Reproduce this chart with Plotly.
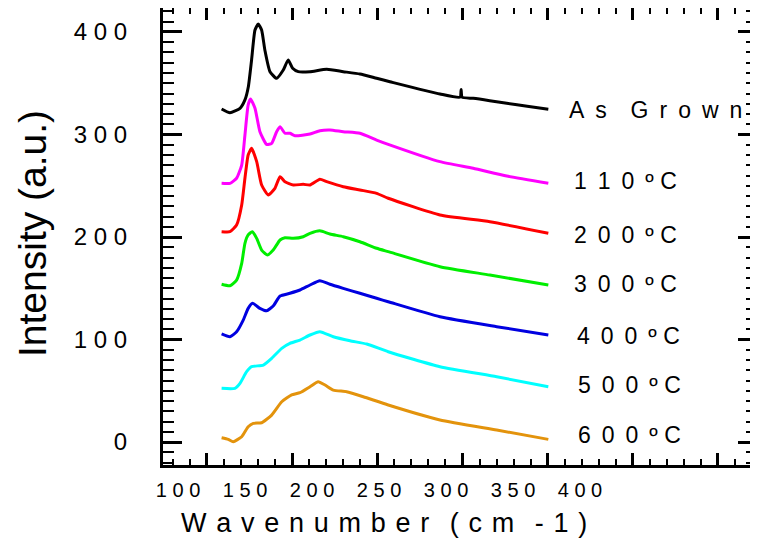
import plotly.graph_objects as go

NB = "\u00a0"
TH = "\u2009"
HR = "\u200a"

# ---- data ----
x_as = [108.6, 113.5, 119.4, 122.3, 124.3, 126.2, 128.2, 130.1, 132.1, 134.0, 137.0, 140.9, 144.8, 147.7, 150.3, 153.6,
        160.5, 170.3, 180.0, 189.8, 199.6, 207.4, 236.8, 248.6, 249.2, 249.8, 256.3, 266.0, 276.0, 288.0, 300.4]
y_as = [324.9, 321.3, 325.5, 333.7, 346.6, 372.7, 401.9, 407.8, 401.9, 382.4, 361.3, 354.8, 362.9, 372.7, 364.6, 361.3,
        361.3, 363.6, 361.3, 359.0, 354.8, 351.5, 339.5, 336.5, 344.0, 336.3, 335.3, 333.0, 330.4, 327.5, 324.6]

x_110 = [108.6, 113.5, 117.4, 120.4, 122.3, 124.2, 125.6, 128.2, 131.1, 135.0, 138.0, 140.9, 142.9, 145.8, 148.7, 151.7,
         160.5, 166.3, 172.2, 180.0, 189.8, 199.6, 206.4, 236.8, 256.3, 276.0, 300.4]
y_110 = [252.4, 252.4, 257.3, 270.2, 299.5, 328.8, 334.6, 325.6, 302.7, 290.4, 291.4, 302.7, 307.6, 301.2, 301.2, 298.8,
         300.5, 303.7, 304.4, 302.7, 301.2, 294.6, 290.4, 273.5, 267.0, 259.5, 252.4]

x_200 = [108.6, 113.5, 117.4, 120.4, 122.3, 124.2, 126.2, 129.2, 132.1, 136.0, 139.9, 142.9, 145.8, 150.7, 156.5, 160.5,
         166.3, 170.3, 180.0, 189.8, 199.6, 206.4, 236.8, 266.1, 300.4]
y_200 = [205.2, 205.2, 211.7, 231.2, 257.3, 280.0, 286.5, 273.5, 250.7, 241.0, 247.5, 258.8, 253.9, 250.7, 251.4, 250.7,
         256.3, 254.0, 249.1, 245.9, 242.6, 237.8, 221.5, 214.9, 203.6]

x_300 = [108.6, 113.5, 117.4, 120.4, 122.3, 124.2, 126.6, 129.2, 132.1, 135.4, 138.9, 142.9, 145.8, 150.7, 156.5, 160.5,
         166.3, 172.2, 180.0, 189.8, 199.6, 206.4, 236.8, 266.1, 300.4]
y_300 = [153.9, 152.5, 158.0, 174.3, 193.9, 202.0, 205.2, 198.7, 187.3, 182.4, 187.3, 197.1, 199.3, 198.7, 200.3, 203.6,
         206.1, 202.9, 200.3, 195.4, 189.0, 185.7, 171.0, 162.9, 153.2]

x_400 = [108.6, 113.5, 117.4, 121.3, 124.2, 126.8, 131.1, 135.0, 138.9, 142.9, 148.7, 154.6, 160.5, 166.3, 172.2, 180.0,
         189.8, 199.6, 206.4, 236.8, 270.1, 300.4]
y_400 = [105.4, 102.7, 107.6, 119.0, 130.4, 135.3, 130.4, 128.1, 132.7, 142.4, 145.1, 148.3, 153.2, 157.4, 153.9, 149.9,
         145.1, 140.2, 136.9, 122.2, 112.5, 104.4]

x_500 = [108.6, 116.4, 119.4, 123.3, 126.2, 133.1, 138.0, 143.9, 148.7, 154.6, 160.5, 166.3, 174.2, 184.0, 193.8, 206.4,
         236.8, 270.1, 300.4]
y_500 = [52.4, 52.4, 57.3, 68.6, 73.5, 75.1, 81.7, 91.4, 96.3, 99.5, 104.4, 107.6, 102.7, 98.8, 95.6, 88.1,
         73.5, 63.7, 54.0]

x_600 = [108.6, 112.5, 115.4, 120.4, 124.2, 127.2, 132.1, 138.0, 143.9, 149.7, 154.6, 160.5, 165.3, 169.3, 174.2, 182.0,
         191.8, 206.4, 236.8, 270.1, 300.4]
y_600 = [4.2, 2.6, 0.3, 5.2, 14.9, 18.2, 18.8, 26.3, 39.3, 45.9, 48.1, 54.0, 58.8, 55.6, 50.7, 49.1,
         44.2, 36.1, 21.5, 11.7, 2.6]

series_x = [x_as, x_110, x_200, x_300, x_400, x_500, x_600]
series_y = [y_as, y_110, y_200, y_300, y_400, y_500, y_600]
series_names = ["As Grown", "110ºC", "200ºC", "300ºC", "400ºC", "500ºC", "600ºC"]
series_colors = ["#000000", "#FF00FF", "#FF0000", "#00EE00", "#0000E0", "#00FFFF", "#E3930C"]

label_text = [
    "A" + NB + TH + "s" + NB * 3 + TH + "G" + NB + TH + "r" + NB + TH + "o" + NB + TH + "w" + NB + TH + "n",
    "1" + NB + TH + "1" + NB + TH + "0" + NB + TH + "º" + NB + "C",
    "2" + NB + TH + "0" + NB + TH + "0" + NB + TH + "º" + NB + "C",
    "3" + NB + TH + "0" + NB + TH + "0" + NB + TH + "º" + NB + "C",
    "4" + NB + TH + "0" + NB + TH + "0" + NB + TH + "º" + NB + "C",
    "5" + NB + TH + "0" + NB + TH + "0" + NB + TH + "º" + NB + "C",
    "6" + NB + TH + "0" + NB + TH + "0" + NB + TH + "º" + NB + "C",
]
label_x = [311.4, 314.3, 314.3, 314.3, 316.0, 316.6, 316.6]
label_y = [323.9, 254.8, 202.0, 154.1, 103.4, 55.6, 6.8]

x_tick_vals = [100, 150, 200, 250, 300, 350, 400]
x_tick_text = [NB.join(str(v)) for v in x_tick_vals]
y_tick_vals = [0, 100, 200, 300, 400]
y_tick_text = [NB.join(str(v)) for v in y_tick_vals]

LG = NB + HR
x_title = LG.join("Wavenumber") + NB * 2 + TH + LG.join("(cm") + NB * 2 + TH + LG.join("-1)")
y_title = "Intensity (a.u.)"

FONT = "Liberation Sans, Arial, sans-serif"

fig = go.Figure()
for xs, ys, nm, c in zip(series_x, series_y, series_names, series_colors):
    fig.add_trace(go.Scatter(x=xs, y=ys, name=nm, mode="lines",
                             line=dict(color=c, width=3, shape="spline", smoothing=0.5),
                             showlegend=False))

# carrier trace for the label axis (no visible marks)
fig.add_trace(go.Scatter(x=[x_tick_vals[0], x_tick_vals[-1]], y=[None, None], xaxis="x2", yaxis="y",
                         mode="lines", showlegend=False, hoverinfo="skip"))

for t, lx, ly in zip(label_text, label_x, label_y):
    fig.add_annotation(x=lx, y=ly, xref="x", yref="y", text=t, showarrow=False,
                       xanchor="left", yanchor="middle", font=dict(family=FONT, size=23, color="black"))

PL, PR, PT, PB = 155, 749, 0, 457  # plot area in figure px
fig.add_annotation(x=(376 - PL) / (PR - PL), y=(PB - 515) / (PB - PT), xref="paper", yref="paper",
                   text=x_title, showarrow=False, xanchor="center", yanchor="middle",
                   font=dict(family=FONT, size=27, color="black"))
fig.add_annotation(x=(24 - PL) / (PR - PL), y=(PB - 226) / (PB - PT), xref="paper", yref="paper",
                   text=y_title, showarrow=False, xanchor="center", yanchor="middle", textangle=-90,
                   font=dict(family=FONT, size=39, color="black"))

fig.update_layout(
    width=758, height=546,
    margin=dict(l=PL, r=758 - PR, t=PT, b=546 - PB, autoexpand=False),
    paper_bgcolor="white", plot_bgcolor="white",
    showlegend=False,
    xaxis=dict(range=[74.2, 422.9], tickmode="array", tickvals=x_tick_vals, showticklabels=False,
               ticks="inside", ticklen=12, tickwidth=3, tickcolor="black",
               minor=dict(dtick=10, tick0=0, ticks="inside", ticklen=6, tickwidth=2, tickcolor="black"),
               showline=True, linewidth=3, linecolor="black", mirror="ticks",
               showgrid=False, zeroline=False, automargin=False),
    xaxis2=dict(range=[88.8, 532.1], overlaying="x", side="bottom", anchor="y",
                tickmode="array", tickvals=x_tick_vals, ticktext=x_tick_text,
                ticks="", showline=False, showgrid=False, zeroline=False, automargin=False,
                tickfont=dict(family=FONT, size=20, color="black"), ticklabelstandoff=11),
    yaxis=dict(range=[-22.4, 423.4], tickmode="array", tickvals=y_tick_vals, ticktext=y_tick_text,
               ticks="inside", ticklen=19, tickwidth=3, tickcolor="black",
               minor=dict(dtick=10, tick0=0, ticks="inside", ticklen=11, tickwidth=2, tickcolor="black"),
               showline=True, linewidth=3, linecolor="black", mirror="ticks",
               showgrid=False, zeroline=False, automargin=False,
               tickfont=dict(family=FONT, size=24, color="black"), ticklabelstandoff=28),
)

fig.write_html("out.html")
